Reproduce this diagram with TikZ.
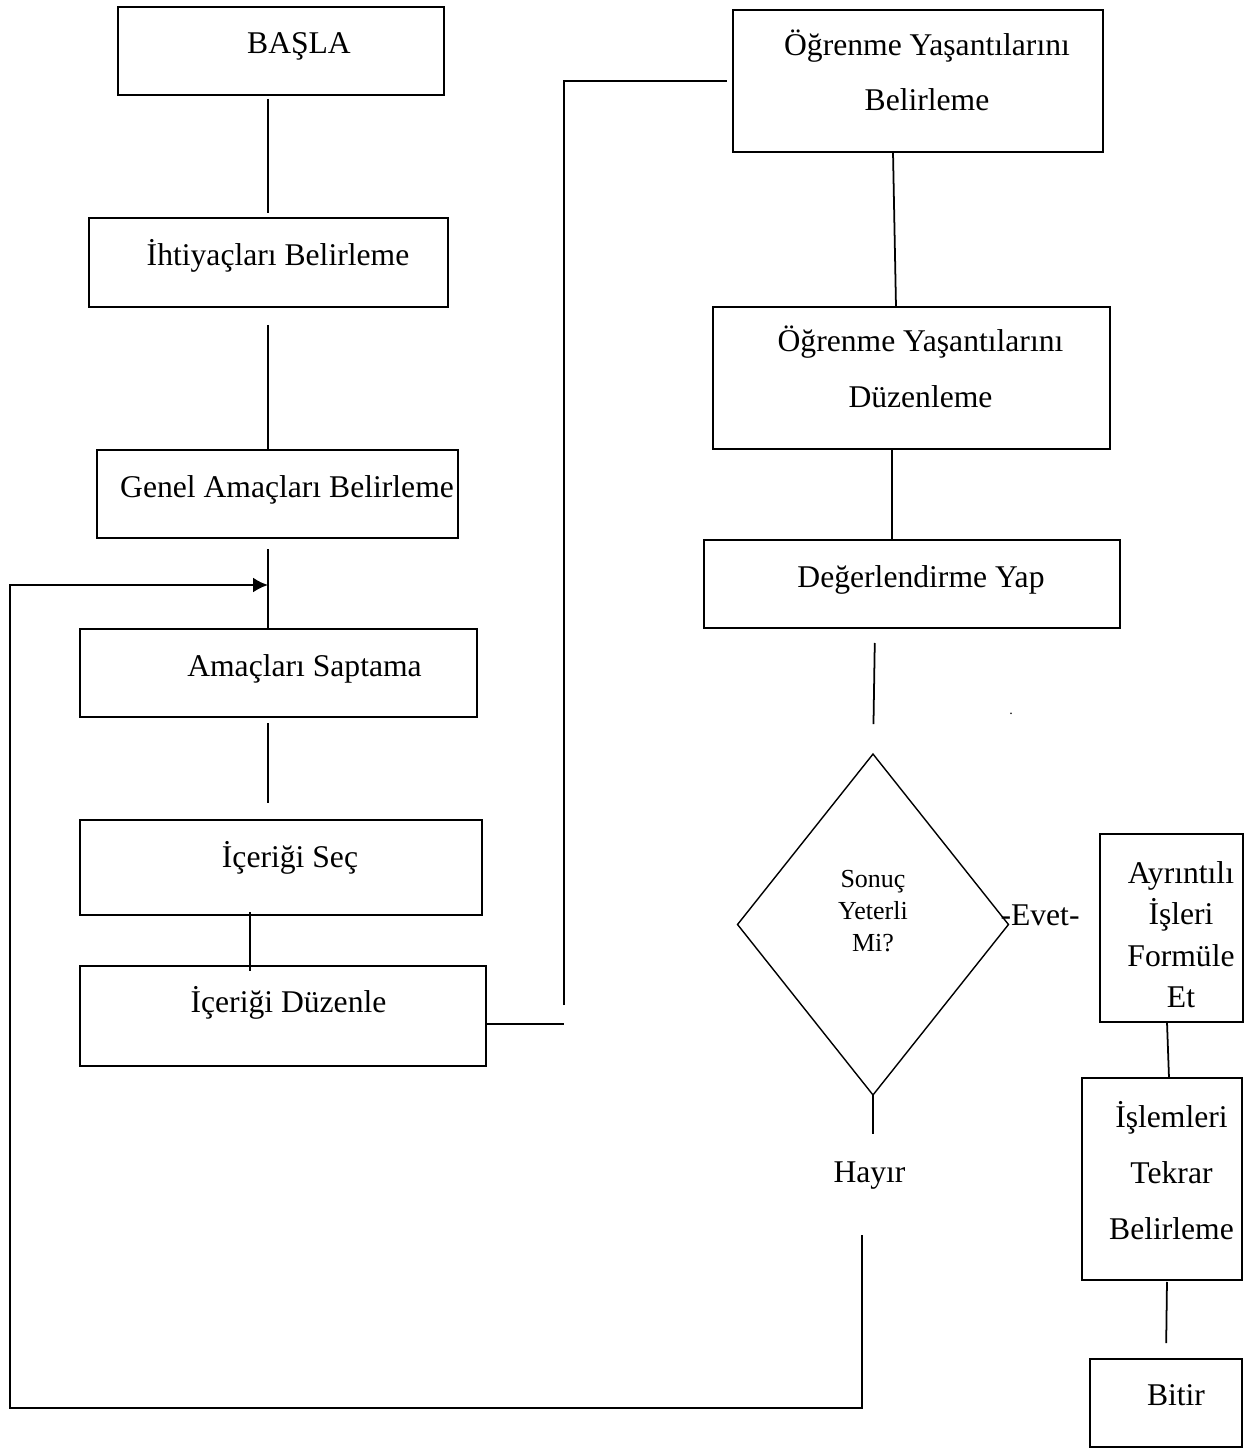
\documentclass[tikz,border=0pt]{standalone}
\usepackage{fontspec}
\setmainfont{Liberation Serif}
\usetikzlibrary{arrows.meta, shapes.geometric}
\tikzset{
  box/.style={draw, line width=1.5pt, inner sep=0pt, outer sep=0pt},
  link/.style={line width=1pt},
  lbl/.style={inner sep=0pt, font=\fontsize{18}{22}\selectfont},
}

\begin{document}
\begin{tikzpicture}[x=0.02cm, y=-0.02cm]
  \useasboundingbox (0,0) rectangle (1247,1448);

  % left column
  \node[box, minimum width=6.52cm, minimum height=1.76cm] (basla) at (281,51) {};
  \node[box, minimum width=7.18cm, minimum height=1.78cm] (ihtiyac) at (268.5,262.5) {};
  \node[box, minimum width=7.22cm, minimum height=1.76cm] (genel) at (277.5,494) {};
  \node[box, minimum width=7.94cm, minimum height=1.76cm] (amac) at (278.5,673) {};
  \node[box, minimum width=8.04cm, minimum height=1.9cm] (secim) at (281,867.5) {};
  \node[box, minimum width=8.12cm, minimum height=2cm] (duzen) at (283,1016) {};
  \node[lbl, anchor=base] (tbasla) at (299,53) {BAŞLA};
  \node[lbl, anchor=base] (tihtiyac) at (278,265) {İhtiyaçları Belirleme};
  \node[lbl, anchor=base] (tgenel) at (287,497) {Genel Amaçları Belirleme};
  \node[lbl, anchor=base] (tamac) at (304.5,676) {Amaçları Saptama};
  \node[lbl, anchor=base] (tsecim) at (290,867) {İçeriği Seç};
  \node[lbl, anchor=base] (tduzen) at (288.5,1012) {İçeriği Düzenle};

  % right column
  \node[box, minimum width=7.4cm, minimum height=2.84cm] (ogrbel) at (918,81) {};
  \node[box, minimum width=7.94cm, minimum height=2.84cm] (ogrduz) at (911.5,378) {};
  \node[box, minimum width=8.32cm, minimum height=1.76cm] (deger) at (912,584) {};
  \node[draw, diamond, line width=0.8pt, inner sep=0pt, outer sep=0pt,
        minimum width=5.42cm, minimum height=6.82cm] (dia) at (873,924.5) {};
  \node[box, minimum width=2.86cm, minimum height=3.76cm] (ayrin) at (1171.5,928) {};
  \node[box, minimum width=3.2cm, minimum height=4.04cm] (islem) at (1162,1179) {};
  \node[box, minimum width=3.04cm, minimum height=1.76cm] (bitir) at (1166,1403) {};
  \node[lbl, align=center, font=\fontsize{18}{31.2}\selectfont] (togrbel) at (927,70)
    {Öğrenme Yaşantılarını\\Belirleme};
  \node[lbl, align=center, font=\fontsize{18}{31.7}\selectfont] (togrduz) at (920.5,366.5)
    {Öğrenme Yaşantılarını\\Düzenleme};
  \node[lbl, anchor=base] (tdeger) at (921,587) {Değerlendirme Yap};
  \node[lbl, align=center, font=\fontsize{14.8}{18.1}\selectfont] (tdia) at (873,911)
    {Sonuç\\Yeterli\\Mi?};
  \node[lbl, anchor=base] (evet) at (1040,925) {-Evet-};
  \node[lbl, anchor=base] (hayir) at (869.5,1182) {Hayır};
  \node[lbl, align=center, font=\fontsize{18}{23.6}\selectfont] (tayrin) at (1181,934.5)
    {Ayrıntılı\\İşleri\\Formüle\\Et};
  \node[lbl, align=center, font=\fontsize{18}{31.8}\selectfont] (tislem) at (1171.5,1170.5)
    {İşlemleri\\Tekrar\\Belirleme};
  \node[lbl, anchor=base] (tbitir) at (1176,1405) {Bitir};
  \node[inner sep=0pt, font=\fontsize{8}{8}\selectfont, anchor=base] (nokta) at (1011,714) {.};

  % connectors
  \coordinate (spine) at (268,0);
  \coordinate (cut) at (250,0);
  \coordinate (riser) at (564,1024);
  \coordinate (back) at (862,1235);
  \coordinate (floor) at (10,1408);
  \coordinate (entry) at (268,585);
  \draw[link, shorten <=0.08cm, shorten >=0.1cm] (basla.south -| spine) -- (ihtiyac.north -| spine);
  \draw[link, shorten <=0.36cm] (ihtiyac.south -| spine) -- (genel.north -| spine);
  \draw[link, shorten <=0.22cm] (genel.south -| spine) -- (amac.north -| spine);
  \draw[link, shorten <=0.12cm, shorten >=0.34cm] (amac.south -| spine) -- (secim.north -| spine);
  \draw[link, shorten <=-0.06cm, shorten >=-0.1cm] (secim.south -| cut) -- (duzen.north -| cut);
  \draw[link] (duzen.east |- riser) -- (riser);
  \draw[link, shorten <=0.38cm, shorten >=0.12cm] (riser) -- (riser |- ogrbel.west) -- (ogrbel.west);
  \draw[link] ([xshift=-0.5cm]ogrbel.south) -- ([xshift=-0.31cm]ogrduz.north);
  \draw[link] ([xshift=-0.39cm]ogrduz.south) -- ([xshift=-0.4cm]deger.north);
  \draw[link, shorten <=0.3cm, shorten >=0.6cm] ([xshift=-0.74cm]deger.south) -- (dia.north);
  \draw[link, shorten >=0.54cm] (dia.south) -- (dia.south |- hayir.north);
  \draw[link] ([xshift=-0.09cm]ayrin.south) -- ([xshift=0.14cm]islem.north);
  \draw[link, shorten <=0.04cm, shorten >=0.32cm] ([xshift=0.1cm]islem.south) -- (bitir.north);
  \draw[line width=1.3pt, -{Latex[length=8.5pt, width=8.5pt]}] (back) |- (floor) |- (entry);
\end{tikzpicture}
\end{document}
